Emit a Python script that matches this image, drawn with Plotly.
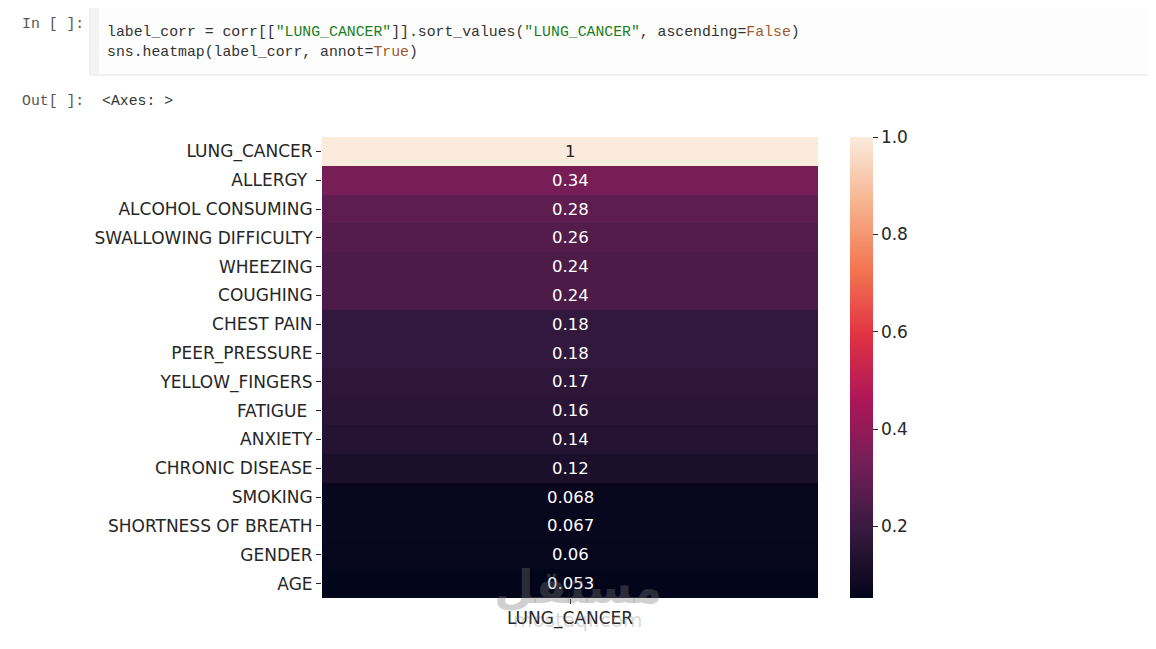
import plotly.graph_objects as go

W, H = 1156, 649
OFF = 8  # page body margin offset

features = ["LUNG_CANCER", "ALLERGY\u00a0", "ALCOHOL CONSUMING", "SWALLOWING DIFFICULTY",
            "WHEEZING", "COUGHING", "CHEST PAIN", "PEER_PRESSURE", "YELLOW_FINGERS",
            "FATIGUE\u00a0", "ANXIETY", "CHRONIC DISEASE", "SMOKING",
            "SHORTNESS OF BREATH", "GENDER", "AGE"]
corr_values = [1.0, 0.34, 0.28, 0.26, 0.24, 0.24, 0.18, 0.18, 0.17, 0.16, 0.14, 0.12,
               0.068, 0.067, 0.06, 0.053]
annot_labels = ["1", "0.34", "0.28", "0.26", "0.24", "0.24", "0.18", "0.18", "0.17",
                "0.16", "0.14", "0.12", "0.068", "0.067", "0.06", "0.053"]
column_name = "LUNG_CANCER"
cbar_ticks = [0.2, 0.4, 0.6, 0.8, 1.0]
cbar_ticktext = ["0.2", "0.4", "0.6", "0.8", "1.0"]

rocket = [
    [0.0, "#03051a"], [1/7, "#35193e"], [2/7, "#701f57"], [3/7, "#ad1759"],
    [4/7, "#e13342"], [5/7, "#f37651"], [6/7, "#f6b48f"], [1.0, "#faebdd"],
]

def px(x):
    return (x - OFF) / W

def py(y):
    return 1 - (y - OFF) / H

zmin, zmax = min(corr_values), max(corr_values)
TXT = "#262626"
FONT = "DejaVu Sans"
MONO = "Liberation Mono"

fig = go.Figure()
fig.add_trace(go.Heatmap(
    z=[[v] for v in corr_values],
    x=[column_name],
    y=features,
    colorscale=rocket,
    zmin=zmin, zmax=zmax,
    hoverinfo="skip",
    colorbar=dict(
        x=px(850), xanchor="left", xpad=0,
        y=py(137), yanchor="top", ypad=0,
        len=(598 - 137) / H, lenmode="fraction",
        thickness=23, thicknessmode="pixels",
        outlinewidth=0,
        ticks="outside", ticklen=5, tickwidth=1, tickcolor=TXT,
        tickvals=cbar_ticks, ticktext=cbar_ticktext,
        tickfont=dict(family=FONT, size=17, color=TXT),
    ),
))

# cell annotations (seaborn style: dark text on light cells)
for f, v, lab in zip(features, corr_values, annot_labels):
    t = (v - zmin) / (zmax - zmin)
    color = TXT if t > 0.6 else "#ffffff"
    fig.add_annotation(x=column_name, y=f, text=lab, showarrow=False,
                       font=dict(family=FONT, size=16.5, color=color),
                       xref="x", yref="y")

shapes = [
    dict(type="rect", xref="paper", yref="paper", x0=px(90), x1=px(1170), y0=py(75), y1=py(5),
         fillcolor="#fdfdfd", line=dict(color="#e0e0e0", width=1), layer="below"),
    dict(type="rect", xref="paper", yref="paper", x0=px(90.5), x1=px(99), y0=py(74.5), y1=py(5.5),
         fillcolor="#f4f4f4", line=dict(width=0), layer="below"),
]

STR = "#1b7d1b"
KW = "#a0582a"
code1 = ('label_corr = corr[[<span style="color:%s">"LUNG_CANCER"</span>]].sort_values('
         '<span style="color:%s">"LUNG_CANCER"</span>, ascending=<span style="color:%s">False</span>)'
         % (STR, STR, KW))
code2 = 'sns.heatmap(label_corr, annot=<span style="color:%s">True</span>)' % KW

annots = [
    dict(x=px(20), y=py(24), text="In [ ]:", color="#555555"),
    dict(x=px(105), y=py(32), text=code1, color="#333333"),
    dict(x=px(105), y=py(52), text=code2, color="#333333"),
    dict(x=px(20), y=py(101), text="Out[ ]:", color="#555555"),
    dict(x=px(100), y=py(101), text="&lt;Axes: &gt;", color="#333333"),
]
for a in annots:
    fig.add_annotation(x=a["x"], y=a["y"], xref="paper", yref="paper", text=a["text"],
                       showarrow=False, xanchor="left", yanchor="middle",
                       font=dict(family=MONO, size=14.8, color=a["color"]))

# watermark
fig.add_annotation(x=px(578), y=py(616), xref="paper", yref="paper", text="<b>مستقل</b>",
                   showarrow=False, font=dict(family="DejaVu Sans", size=46, color="rgba(120,120,120,0.35)"))
fig.add_annotation(x=px(578), y=py(634), xref="paper", yref="paper", text="mostaql.com",
                   showarrow=False, font=dict(family="DejaVu Sans", size=20, color="rgba(120,120,120,0.3)"))

fig.update_layout(
    width=W, height=H,
    margin=dict(l=0, r=0, t=0, b=0),
    paper_bgcolor="white", plot_bgcolor="white",
    shapes=shapes,
    xaxis=dict(domain=[px(322), px(818)], showgrid=False, zeroline=False,
               ticks="outside", ticklen=5, tickcolor=TXT, showline=False,
               tickfont=dict(family=FONT, size=17, color=TXT)),
    yaxis=dict(domain=[py(598), py(137)], autorange="reversed", showgrid=False,
               zeroline=False, ticks="outside", ticklen=5, tickcolor=TXT, showline=False,
               tickfont=dict(family=FONT, size=17, color=TXT)),
)

fig.write_html("out.html")
